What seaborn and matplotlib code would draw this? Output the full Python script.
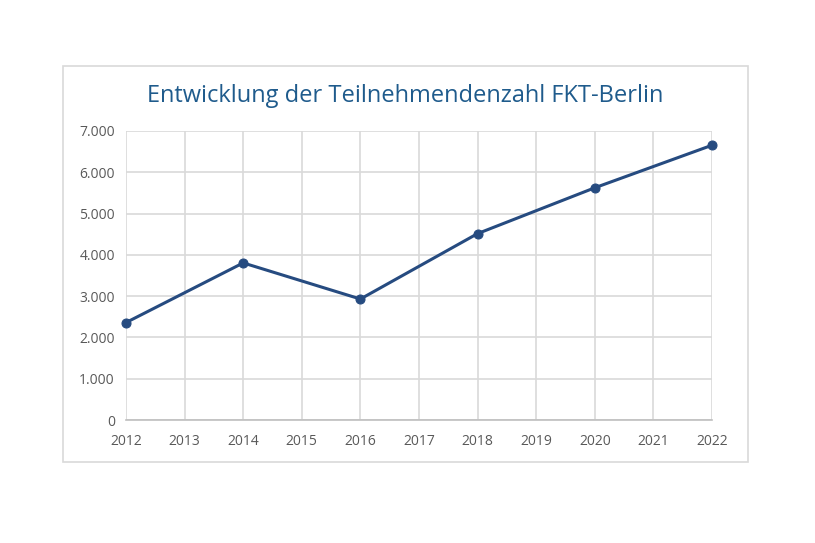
import pandas as pd
import matplotlib.pyplot as plt
import seaborn as sns
from matplotlib.patches import Rectangle

# Teilnehmende pro Jahr
jahre = [2012, 2014, 2016, 2018, 2020, 2022]
teilnehmende = [2360, 3805, 2930, 4515, 5625, 6655]
x_ticks = list(range(2012, 2023))
y_ticks = [0, 1000, 2000, 3000, 4000, 5000, 6000, 7000]
y_labels = ["0", "1.000", "2.000", "3.000", "4.000", "5.000", "6.000", "7.000"]

df = pd.DataFrame({"Jahr": jahre, "Teilnehmende": teilnehmende})

sns.set_theme(style="white")
plt.rcParams["font.family"] = ["Open Sans", "DejaVu Sans"]

fig = plt.figure(figsize=(8.15, 5.43), dpi=100)
fig.patch.set_facecolor("white")

# Rahmen um das Diagramm
fig.patches.append(Rectangle((63 / 815, 1 - 462 / 543), 685 / 815, 396 / 543,
                             transform=fig.transFigure, fill=False,
                             edgecolor="#d9d9d9", linewidth=1.2))

ax = fig.add_axes([126 / 815, 1 - 420 / 543, 586 / 815, 289 / 543])
sns.lineplot(data=df, x="Jahr", y="Teilnehmende", ax=ax, color="#264b80",
             linewidth=2.2, marker="o", markersize=6.5, markeredgecolor="#264b80",
             clip_on=False)

ax.set_xlim(2012, 2022)
ax.set_ylim(0, 7000)
ax.set_xticks(x_ticks)
ax.set_xticklabels([str(j) for j in x_ticks])
ax.set_yticks(y_ticks)
ax.set_yticklabels(y_labels)
ax.grid(True, color="#d9d9d9", linewidth=1.2)
ax.set_axisbelow(True)
for side in ["top", "right", "left"]:
    ax.spines[side].set_visible(False)
ax.spines["bottom"].set_color("#bfbfbf")
ax.spines["bottom"].set_linewidth(1.2)
ax.tick_params(axis="both", length=0, labelsize=10, labelcolor="#595959")
ax.tick_params(axis="x", pad=10)
ax.tick_params(axis="y", pad=8)
ax.set_xlabel("")
ax.set_ylabel("")

fig.text(405 / 815, 1 - 96 / 543, "Entwicklung der Teilnehmendenzahl FKT-Berlin",
         ha="center", va="center", fontsize=17, color="#1f5b8c")

fig.savefig("out.png", dpi=100)
